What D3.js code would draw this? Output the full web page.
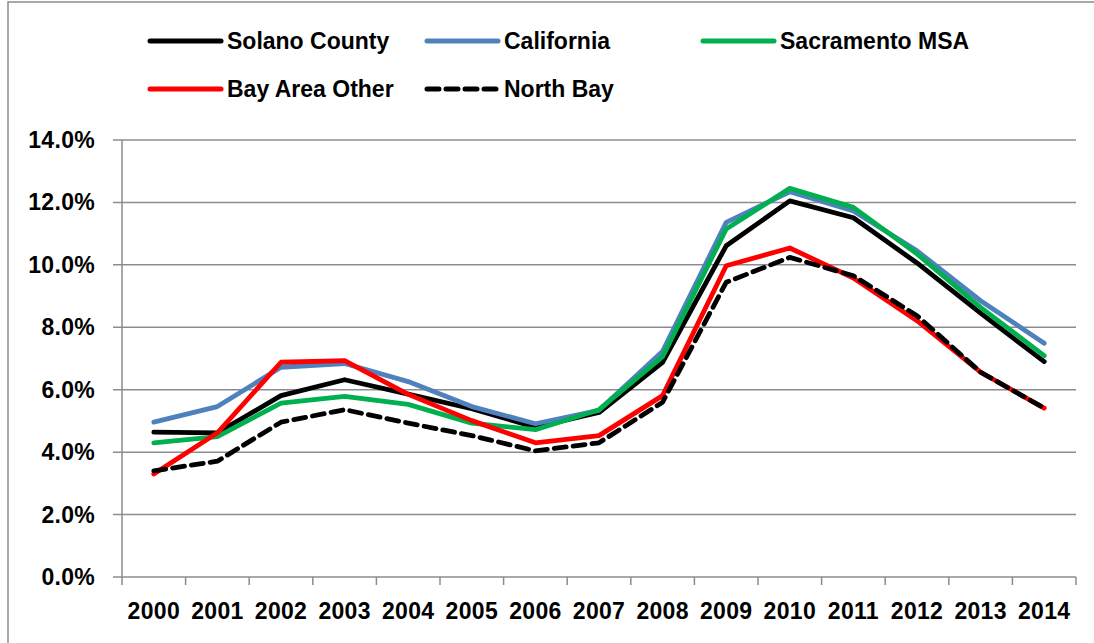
<!DOCTYPE html>
<html>
<head>
<meta charset="utf-8">
<script src="https://cdn.jsdelivr.net/npm/d3@7"></script>
<style>
  html, body { margin: 0; padding: 0; background: #fff; }
  svg text { font-family: "Liberation Sans", Arial, sans-serif; font-weight: 700; fill: #000; }
</style>
</head>
<body>
<svg id="chart" width="1094" height="643"></svg>
<script>
  const years = ['2000','2001','2002','2003','2004','2005','2006','2007','2008','2009','2010','2011','2012','2013','2014'];
  const yTicks = [0, 2, 4, 6, 8, 10, 12, 14];

  const solano     = [4.64, 4.62, 5.81, 6.32, 5.86, 5.39, 4.80, 5.27, 6.88, 10.61, 12.05, 11.51, 10.06, 8.45, 6.90];
  const california = [4.96, 5.46, 6.72, 6.84, 6.26, 5.46, 4.91, 5.34, 7.23, 11.36, 12.34, 11.73, 10.45, 8.85, 7.49];
  const sacramento = [4.30, 4.50, 5.57, 5.79, 5.53, 4.93, 4.72, 5.36, 7.06, 11.15, 12.45, 11.84, 10.35, 8.64, 7.09];
  const bayOther   = [3.30, 4.62, 6.88, 6.93, 5.85, 5.01, 4.30, 4.53, 5.81, 9.97, 10.54, 9.58, 8.21, 6.56, 5.41];
  const northBay   = [3.40, 3.71, 4.96, 5.36, 4.93, 4.53, 4.04, 4.30, 5.60, 9.44, 10.24, 9.65, 8.37, 6.56, 5.41];

  const seriesNames = ['Solano County', 'California', 'Sacramento MSA', 'Bay Area Other', 'North Bay'];
  const seriesValues = [solano, california, sacramento, bayOther, northBay];
  const seriesColors = ['#000000', '#4F81BD', '#00B050', '#FF0000', '#000000'];
  const seriesDash = [null, null, null, null, '12,7'];

  const svg = d3.select('#chart');

  // outer chart frame
  svg.append('rect').attr('x', 8).attr('y', 2).attr('width', 1100).attr('height', 660)
    .attr('fill', 'none').attr('stroke', '#8c8c8c').attr('stroke-width', 1.5);

  const plotLeft = 122, plotRight = 1076, plotTop = 140, plotBottom = 577;

  const x = d3.scaleBand().domain(years).range([plotLeft, plotRight]);
  const y = d3.scaleLinear().domain([0, 14]).range([plotBottom, plotTop]);

  // gridlines + y ticks
  svg.append('g').selectAll('line').data(yTicks).enter().append('line')
    .attr('x1', plotLeft - 9).attr('x2', plotRight)
    .attr('y1', d => y(d)).attr('y2', d => y(d))
    .attr('stroke', '#8c8c8c').attr('stroke-width', 1.5);

  svg.append('g').selectAll('text').data(yTicks).enter().append('text')
    .attr('x', 95).attr('y', d => y(d) + 8)
    .attr('text-anchor', 'end').attr('font-size', '23px').attr('letter-spacing', '0.3px')
    .text(d => d.toFixed(1) + '%');

  // axis lines
  svg.append('line').attr('x1', plotLeft).attr('x2', plotLeft).attr('y1', plotTop).attr('y2', plotBottom)
    .attr('stroke', '#8c8c8c').attr('stroke-width', 1.5);

  const bounds = years.map(d => x(d)).concat([plotRight]);
  svg.append('g').selectAll('line').data(bounds).enter().append('line')
    .attr('x1', d => d).attr('x2', d => d).attr('y1', plotBottom).attr('y2', plotBottom + 8)
    .attr('stroke', '#8c8c8c').attr('stroke-width', 1.5);

  svg.append('g').selectAll('text').data(years).enter().append('text')
    .attr('x', d => x(d) + x.bandwidth() / 2).attr('y', 619)
    .attr('text-anchor', 'middle').attr('font-size', '23px').attr('letter-spacing', '0.3px')
    .text(d => d);

  // series lines
  const line = d3.line()
    .x((d, i) => x(years[i]) + x.bandwidth() / 2)
    .y(d => y(d));

  seriesValues.forEach((vals, k) => {
    svg.append('path').datum(vals)
      .attr('d', line)
      .attr('fill', 'none')
      .attr('stroke', seriesColors[k])
      .attr('stroke-width', 4.8)
      .attr('stroke-linejoin', 'round')
      .attr('stroke-linecap', 'round')
      .attr('stroke-dasharray', seriesDash[k]);
  });

  // legend
  const legendPos = [[150, 41], [427, 41], [703, 41], [150, 89], [427, 89]];
  seriesNames.forEach((name, k) => {
    const [lx, ly] = legendPos[k];
    svg.append('line').attr('x1', lx).attr('x2', lx + 71).attr('y1', ly).attr('y2', ly)
      .attr('stroke', seriesColors[k]).attr('stroke-width', 5)
      .attr('stroke-linecap', 'round')
      .attr('stroke-dasharray', seriesDash[k]);
    svg.append('text').attr('x', lx + 77).attr('y', ly + 8)
      .attr('font-size', '23px')
      .text(name);
  });
</script>
</body>
</html>
